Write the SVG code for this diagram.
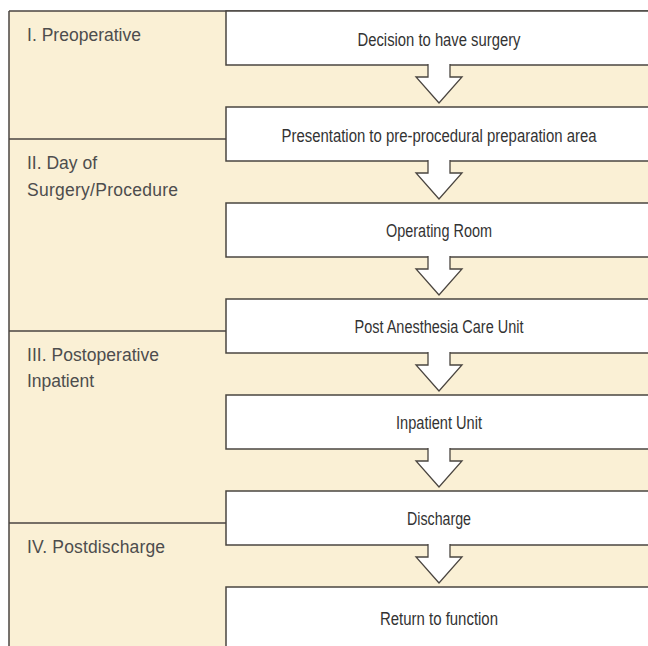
<svg xmlns="http://www.w3.org/2000/svg" width="648" height="646" viewBox="0 0 648 646">
<style>
.bg{fill:#FAF0D5}
.ln{stroke:#4a4540;stroke-width:1.5;fill:none}
.box{fill:#fff;stroke:#4a4540;stroke-width:1.5}
.arr{fill:#fff;stroke:#4a4540;stroke-width:1.3;stroke-linejoin:miter}
.bt{font-family:"Liberation Sans",Arial,sans-serif;font-size:17.5px;fill:#333;text-anchor:middle}
.lt{font-family:"Liberation Sans",Arial,sans-serif;font-size:17.5px;fill:#4d4d4d}
</style>
<rect class="bg" x="9" y="11" width="650" height="640"/>
<g id="phases">
<line class="ln" x1="9" y1="11" x2="660" y2="11"/>
<line class="ln" x1="9" y1="11" x2="9" y2="650"/>
<line class="ln" x1="9" y1="139" x2="226" y2="139"/>
<line class="ln" x1="9" y1="331" x2="226" y2="331"/>
<line class="ln" x1="9" y1="523" x2="226" y2="523"/>
<text class="lt" x="27" y="41" textLength="114">I. Preoperative</text>
<text class="lt" x="27" y="169" textLength="70">II. Day of</text>
<text class="lt" x="27" y="196" textLength="151">Surgery/Procedure</text>
<text class="lt" x="27" y="361" textLength="132">III. Postoperative</text>
<text class="lt" x="27" y="387" textLength="67">Inpatient</text>
<text class="lt" x="27" y="553" textLength="138">IV. Postdischarge</text>
</g>
<g id="n1"><rect class="box" x="226" y="11" width="440" height="54"/><text class="bt" x="439" y="46" textLength="163" lengthAdjust="spacingAndGlyphs">Decision to have surgery</text></g>
<g id="n2"><rect class="box" x="226" y="107" width="440" height="54"/><text class="bt" x="439" y="142" textLength="315" lengthAdjust="spacingAndGlyphs">Presentation to pre-procedural preparation area</text></g>
<g id="n3"><rect class="box" x="226" y="203" width="440" height="54"/><text class="bt" x="439" y="237" textLength="106" lengthAdjust="spacingAndGlyphs">Operating Room</text></g>
<g id="n4"><rect class="box" x="226" y="299" width="440" height="54"/><text class="bt" x="439" y="333" textLength="169" lengthAdjust="spacingAndGlyphs">Post Anesthesia Care Unit</text></g>
<g id="n5"><rect class="box" x="226" y="395" width="440" height="54"/><text class="bt" x="439" y="429" textLength="86" lengthAdjust="spacingAndGlyphs">Inpatient Unit</text></g>
<g id="n6"><rect class="box" x="226" y="491" width="440" height="54"/><text class="bt" x="439" y="525" textLength="64" lengthAdjust="spacingAndGlyphs">Discharge</text></g>
<g id="n7"><rect class="box" x="226" y="587" width="440" height="80"/><text class="bt" x="439" y="625" textLength="118" lengthAdjust="spacingAndGlyphs">Return to function</text></g>
<g id="connectors">
<path class="arr" d="M428,64 V77 H416 L439,103 L462,77 H450 V64"/>
<path class="arr" d="M428,160 V173 H416 L439,199 L462,173 H450 V160"/>
<path class="arr" d="M428,256 V269 H416 L439,295 L462,269 H450 V256"/>
<path class="arr" d="M428,352 V365 H416 L439,391 L462,365 H450 V352"/>
<path class="arr" d="M428,448 V461 H416 L439,487 L462,461 H450 V448"/>
<path class="arr" d="M428,544 V557 H416 L439,583 L462,557 H450 V544"/>
</g>
</svg>
